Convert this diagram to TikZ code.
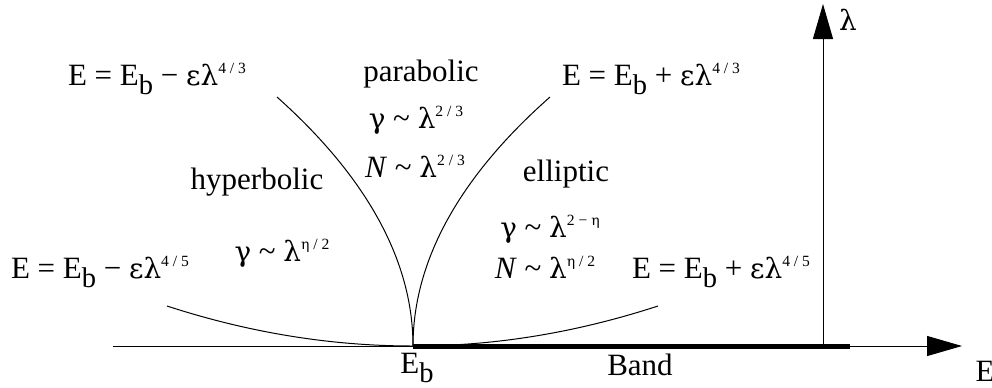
\documentclass[tikz,border=0pt]{standalone}
\usepackage{fontspec}
\usepackage{graphicx}
\setmainfont{Liberation Serif}
\newfontfamily\grk[Scale=0.9]{DejaVu Serif}
\usetikzlibrary{arrows.meta}
\newcommand\lsub[1]{\raisebox{-0.3em}{\scalebox{0.92}{#1}}}
\newcommand\lsup[1]{\raisebox{0.38em}{\fontsize{7.8pt}{9pt}\selectfont #1}}
\newcommand\tld{\textasciitilde}
\newcommand\g[1]{{\grk #1}}
\begin{document}
\begin{tikzpicture}[x=0.5pt,y=-0.5pt,
  lbl/.style={font=\fontsize{15.5pt}{18pt}\selectfont, inner sep=0pt, anchor=base},
  axis/.style={line width=0.5pt},
  curve/.style={line width=0.5pt},
  tip/.style={-{Triangle[length=17.5pt,width=10pt]}}]
\useasboundingbox (0,0) rectangle (992,387);
% axes
\coordinate (L) at (113,346);
\coordinate (Eb) at (413,346);
\coordinate (Bend) at (850,346);
\coordinate (Ex) at (962,346);
\coordinate (Y0) at (823,346);
\coordinate (Ytop) at (823,4);
\draw[axis,tip] (L) -- (Ex);
\draw[line width=2.5pt] (Eb) -- (Bend);
\draw[axis,tip] (Y0) -- (Ytop);
% curve ends
\coordinate (TL) at (277,97);
\coordinate (TR) at (550,97);
\coordinate (BL) at (167,306);
\coordinate (BR) at (658,306);
\draw[curve] (Eb) .. controls (413,264) and (370,180) .. (TL);
\draw[curve] (Eb) .. controls (413,264) and (456,180) .. (TR);
\draw[curve] (Eb) .. controls (331,346) and (249,332.7) .. (BL);
\draw[curve] (Eb) .. controls (495,346) and (576,332.7) .. (BR);
% labels
\node[lbl] (lam) at (848,30) {\g{λ}};
\node[lbl] (Elab) at (985,381) {E};
\node[lbl] (Eblab) at (417,373) {E\lsub{b}};
\node[lbl] (band) at (640,375) {Band};
\node[lbl] (parab) at (421,81) {parabolic};
\node[lbl] (g23) at (416,128) {\g{γ} \tld{} \g{λ}\lsup{2 / 3}};
\node[lbl] (N23) at (415,177) {\textit{N} \tld{} \g{λ}\lsup{2 / 3}};
\node[lbl] (hyp) at (257,189) {hyperbolic};
\node[lbl] (ell) at (566,181) {elliptic};
\node[lbl] (geta2) at (282,261) {\g{γ} \tld{} \g{λ}\lsup{\g{η} / 2}};
\node[lbl] (g2eta) at (550,237) {\g{γ} \tld{} \g{λ}\lsup{2 − \g{η}}};
\node[lbl] (Neta2) at (545,278) {\textit{N} \tld{} \g{λ}\lsup{\g{η} / 2}};
\node[lbl] (ETL) at (157,85) {E = E\lsub{b} − \g{ελ}\lsup{4 / 3}};
\node[lbl] (ETR) at (651,85) {E = E\lsub{b} + \g{ελ}\lsup{4 / 3}};
\node[lbl] (EBL) at (100,278) {E = E\lsub{b} − \g{ελ}\lsup{4 / 5}};
\node[lbl] (EBR) at (721,278) {E = E\lsub{b} + \g{ελ}\lsup{4 / 5}};
\end{tikzpicture}
\end{document}
